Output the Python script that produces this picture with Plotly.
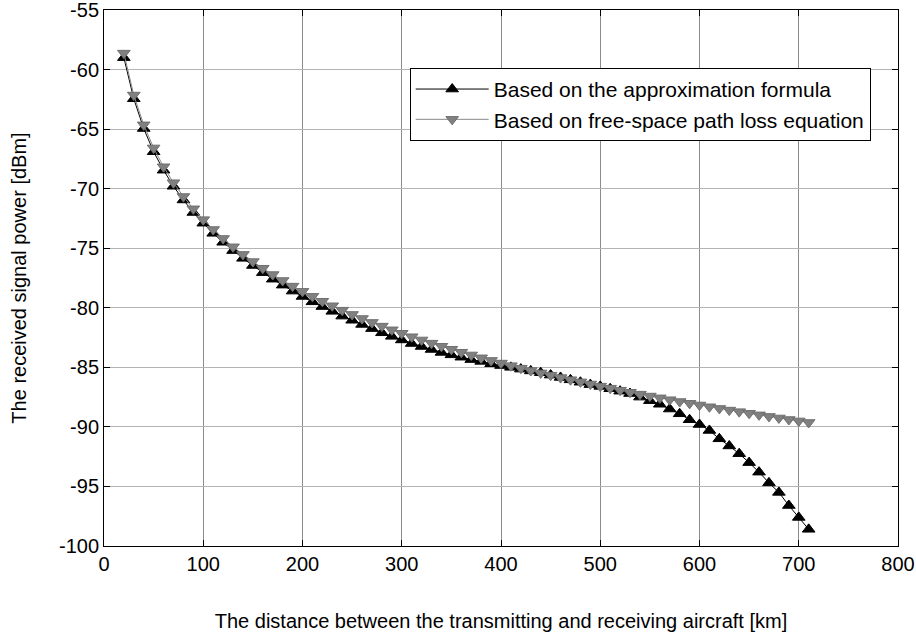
import plotly.graph_objects as go

# Distance between transmitting and receiving aircraft [km]
distance_km = list(range(20, 720, 10))

# Received power using the approximation formula [dBm]
approx_dbm = [
    -59.0, -62.45, -64.95, -66.9, -68.45, -69.8, -70.95, -72.0, -72.9, -73.75,
    -74.5, -75.2, -75.85, -76.45, -77.05, -77.6, -78.1, -78.6, -79.05, -79.5,
    -79.9, -80.3, -80.7, -81.05, -81.4, -81.75, -82.1, -82.4, -82.7, -83.0,
    -83.25, -83.5, -83.75, -83.95, -84.15, -84.35, -84.5, -84.7, -84.85, -85.0,
    -85.15, -85.3, -85.45, -85.65, -85.85, -86.05, -86.25, -86.45, -86.6, -86.8,
    -87.0, -87.2, -87.5, -87.8, -88.1, -88.5, -88.9, -89.4, -89.8, -90.3,
    -91.0, -91.6, -92.25, -93.0, -93.8, -94.7, -95.5, -96.6, -97.6, -98.6,
]

# Received power using the free-space path loss equation [dBm]
fspl_dbm = [
    -58.62, -62.14, -64.64, -66.58, -68.16, -69.50, -70.66, -71.69, -72.60, -73.43,
    -74.18, -74.88, -75.52, -76.12, -76.68, -77.21, -77.71, -78.18, -78.62, -79.04,
    -79.45, -79.83, -80.20, -80.56, -80.90, -81.23, -81.54, -81.85, -82.14, -82.43,
    -82.70, -82.97, -83.23, -83.48, -83.73, -83.96, -84.20, -84.42, -84.64, -84.86,
    -85.07, -85.27, -85.47, -85.66, -85.86, -86.04, -86.22, -86.40, -86.58, -86.75,
    -86.92, -87.09, -87.25, -87.41, -87.56, -87.72, -87.87, -88.02, -88.16, -88.31,
    -88.45, -88.59, -88.72, -88.86, -88.99, -89.12, -89.25, -89.38, -89.50, -89.63,
]

x_ticks = [0, 100, 200, 300, 400, 500, 600, 700, 800]
x_ticklabels = ["0", "100", "200", "300", "400", "500", "600", "700", "800"]
y_ticks = [-100, -95, -90, -85, -80, -75, -70, -65, -60, -55]
y_ticklabels = ["-100", "-95", "-90", "-85", "-80", "-75", "-70", "-65", "-60", "-55"]

FONT = "Liberation Sans, Arial, sans-serif"

fig = go.Figure()
fig.add_trace(go.Scatter(
    x=distance_km, y=approx_dbm, mode="lines+markers",
    name="Based on the approximation formula",
    line=dict(color="black", width=1),
    marker=dict(symbol="triangle-up", size=11, color="black",
                line=dict(color="black", width=1)),
))
fig.add_trace(go.Scatter(
    x=distance_km, y=fspl_dbm, mode="lines+markers",
    name="Based on free-space path loss equation",
    line=dict(color="#8a8a8a", width=1),
    marker=dict(symbol="triangle-down", size=11, color="#808080",
                line=dict(color="#707070", width=1)),
))

axis_common = dict(
    showline=True, linecolor="black", linewidth=1, mirror="ticks",
    ticks="inside", ticklen=6, tickcolor="black", tickwidth=1,
    showgrid=True, gridwidth=1, zeroline=False,
    ticklabeloverflow="allow",
    tickfont=dict(family=FONT, size=20, color="black"),
)

fig.update_xaxes(
    range=[0, 800], tickvals=x_ticks, ticktext=x_ticklabels,
    gridcolor="#8c8c8c",
    title=dict(text="The distance between the transmitting and receiving aircraft [km]",
               font=dict(family=FONT, size=20, color="black"), standoff=40),
    **axis_common,
)
fig.update_yaxes(
    range=[-100, -55], tickvals=y_ticks, ticktext=y_ticklabels,
    gridcolor="#b4b4b4",
    title=dict(text="The received signal power [dBm]",
               font=dict(family=FONT, size=20, color="black"), standoff=26),
    **axis_common,
)

fig.update_layout(
    width=916, height=632,
    margin=dict(l=104, r=18, t=10, b=86, autoexpand=False),
    paper_bgcolor="white", plot_bgcolor="white",
    font=dict(family=FONT, size=20, color="black"),
    legend=dict(
        x=0.385, y=0.892, xanchor="left", yanchor="top",
        bgcolor="white", bordercolor="black", borderwidth=1,
        font=dict(family=FONT, size=21, color="black"),
        itemwidth=73, tracegroupgap=0,
    ),
)

fig.write_html("out.html")
